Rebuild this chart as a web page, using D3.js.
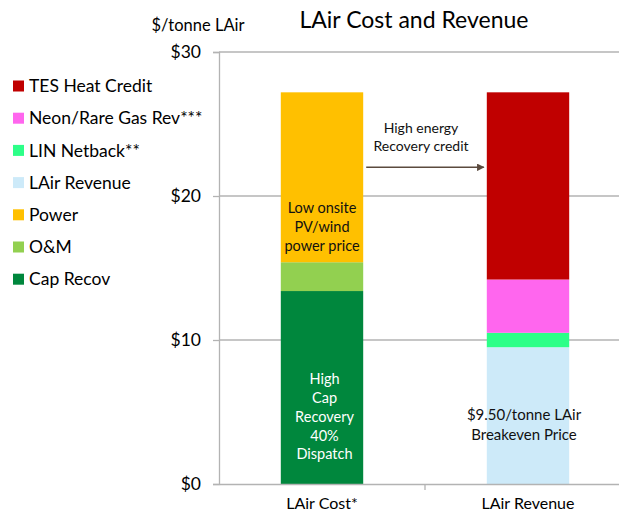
<!DOCTYPE html>
<html>
<head>
<meta charset="utf-8">
<script src="https://cdn.jsdelivr.net/npm/d3@7"></script>
<style>
  body { margin: 0; background: #fff; }
  text { font-family: Lato, "Open Sans", sans-serif; }
</style>
</head>
<body>
<div id="costChart"></div>
<script>
// categories on the x axis
var categories = ["LAir Cost*", "LAir Revenue"];

// series, bottom of the stack first
var seriesNames = ["Cap Recov", "O&M", "Power", "LAir Revenue", "LIN Netback**", "Neon/Rare Gas Rev***", "TES Heat Credit"];
var capRecov   = [13.4, 0];
var oAndM      = [2.0, 0];
var power      = [11.8, 0];
var lairRev    = [0, 9.5];
var linNetback = [0, 1.0];
var neonRev    = [0, 3.7];
var tesCredit  = [0, 13.0];
var seriesColors = ["#00873d", "#92d050", "#ffc000", "#cdeaf9", "#2dff88", "#ff66ee", "#c00000"];

var yTicks = [0, 10, 20, 30];
var yTickLabels = ["$0", "$10", "$20", "$30"];

// build a table for d3.stack
var seriesValues = [capRecov, oAndM, power, lairRev, linNetback, neonRev, tesCredit];
var table = categories.map(function (c, i) {
  var row = {cat: c};
  seriesNames.forEach(function (s, j) { row[s] = seriesValues[j][i]; });
  return row;
});

var W = 619, H = 517;
// plot runs a little past the right edge, like the original
var margin = {top: 52, right: -12, bottom: 33, left: 219};
var width = W - margin.left - margin.right;
var height = H - margin.top - margin.bottom;

var svg = d3.select("#costChart").append("svg")
  .attr("width", W)
  .attr("height", H);

var g = svg.append("g")
  .attr("transform", "translate(" + margin.left + "," + margin.top + ")");

var x = d3.scaleBand()
  .domain(categories)
  .range([0, width])
  .paddingInner(0.6)
  .paddingOuter(0.3);

var y = d3.scaleLinear()
  .domain([0, 30])
  .range([height, 0]);

// gridlines
g.selectAll(".grid")
  .data(yTicks.slice(1))
  .enter().append("line")
  .attr("x1", 0).attr("x2", width)
  .attr("y1", function (d) { return y(d); })
  .attr("y2", function (d) { return y(d); })
  .attr("stroke", "#b3b3b3")
  .attr("stroke-width", 1.3);

// y axis
var yAxis = g.append("g")
  .call(d3.axisLeft(y).tickValues(yTicks).tickSize(6).tickPadding(12)
    .tickFormat(function (d, i) { return yTickLabels[i]; }));
yAxis.select(".domain").attr("stroke", "#b3b3b3").attr("stroke-width", 1.3);
yAxis.selectAll(".tick line").attr("stroke", "#b3b3b3").attr("stroke-width", 1.3);
yAxis.selectAll(".tick text")
  .attr("font-size", 17.5).attr("fill", "#000")
  .style("font-family", "Lato, sans-serif");

// stacked bars
var stack = d3.stack().keys(seriesNames);
var layers = stack(table);

g.selectAll(".layer")
  .data(layers)
  .enter().append("g")
  .attr("fill", function (d, i) { return seriesColors[i]; })
  .selectAll("rect")
  .data(function (d) { return d; })
  .enter().append("rect")
  .attr("x", function (d) { return x(d.data.cat); })
  .attr("width", x.bandwidth())
  .attr("y", function (d) { return y(d[1]); })
  .attr("height", function (d) { return y(d[0]) - y(d[1]); });

// x axis (drawn over the bars)
var xAxis = g.append("g")
  .attr("transform", "translate(0," + height + ")")
  .call(d3.axisBottom(x).tickSize(0).tickPadding(14));
xAxis.select(".domain").attr("stroke", "#b3b3b3").attr("stroke-width", 1.3);
xAxis.selectAll(".tick text")
  .attr("font-size", 16).attr("fill", "#000")
  .style("font-family", "Lato, sans-serif");

// separator tick between the two categories
var midX = (x("LAir Cost*") + x.bandwidth() + x("LAir Revenue")) / 2;
xAxis.append("line")
  .attr("x1", midX).attr("x2", midX)
  .attr("y1", 0).attr("y2", 6)
  .attr("stroke", "#b3b3b3").attr("stroke-width", 1.3);

// title and axis unit
svg.append("text")
  .attr("x", 414).attr("y", 28)
  .attr("text-anchor", "middle")
  .attr("font-size", 23)
  .text("LAir Cost and Revenue");

svg.append("text")
  .attr("x", 198).attr("y", 31)
  .attr("text-anchor", "middle")
  .attr("font-size", 16.5)
  .text("$/tonne LAir");

// legend, top of the stack first
var legend = svg.append("g").attr("transform", "translate(13,86)");
var legendItems = legend.selectAll(".item")
  .data(seriesNames.slice().reverse())
  .enter().append("g")
  .attr("transform", function (d, i) { return "translate(0," + (i * 32.2) + ")"; });
legendItems.append("rect")
  .attr("x", 0).attr("y", -5.5)
  .attr("width", 11).attr("height", 11)
  .attr("fill", function (d) { return seriesColors[seriesNames.indexOf(d)]; });
legendItems.append("text")
  .attr("x", 16).attr("y", 0)
  .attr("dy", "0.35em")
  .attr("font-size", 17.5)
  .text(function (d) { return d; });

// annotations
function multiline(cx, values, lines, size, color) {
  lines.forEach(function (t, i) {
    g.append("text")
      .attr("x", cx)
      .attr("y", y(values[i]))
      .attr("dy", "0.35em")
      .attr("text-anchor", "middle")
      .attr("font-size", size)
      .attr("fill", color)
      .text(t);
  });
}
var costX = x("LAir Cost*") + x.bandwidth() / 2;
var revX = x("LAir Revenue") + x.bandwidth() / 2;

multiline(costX, [19.14, 17.86, 16.55], ["Low onsite", "PV/wind", "power price"], 14.5, "#111");
multiline(costX + 2.5, [7.28, 5.97, 4.65, 3.35, 2.09], ["High", "Cap", "Recovery", "40%", "Dispatch"], 14.5, "#fff");
multiline(revX - 4, [4.80, 3.40], ["$9.50/tonne LAir", "Breakeven Price"], 15, "#111");
multiline(midX - 4, [24.73, 23.46], ["High energy", "Recovery credit"], 14, "#111");

// arrow
svg.append("defs").append("marker")
  .attr("id", "arrowHead")
  .attr("viewBox", "0 0 10 10")
  .attr("refX", 9).attr("refY", 5)
  .attr("markerWidth", 5).attr("markerHeight", 5)
  .attr("orient", "auto")
  .append("path")
  .attr("d", "M0,0 L10,5 L0,10 z")
  .attr("fill", "#5b4a3e");

g.append("line")
  .attr("x1", x("LAir Cost*") + x.bandwidth() + 3)
  .attr("x2", x("LAir Revenue") - 3)
  .attr("y1", y(21.99)).attr("y2", y(21.99))
  .attr("stroke", "#5b4a3e")
  .attr("stroke-width", 1.5)
  .attr("marker-end", "url(#arrowHead)");
</script>
</body>
</html>
